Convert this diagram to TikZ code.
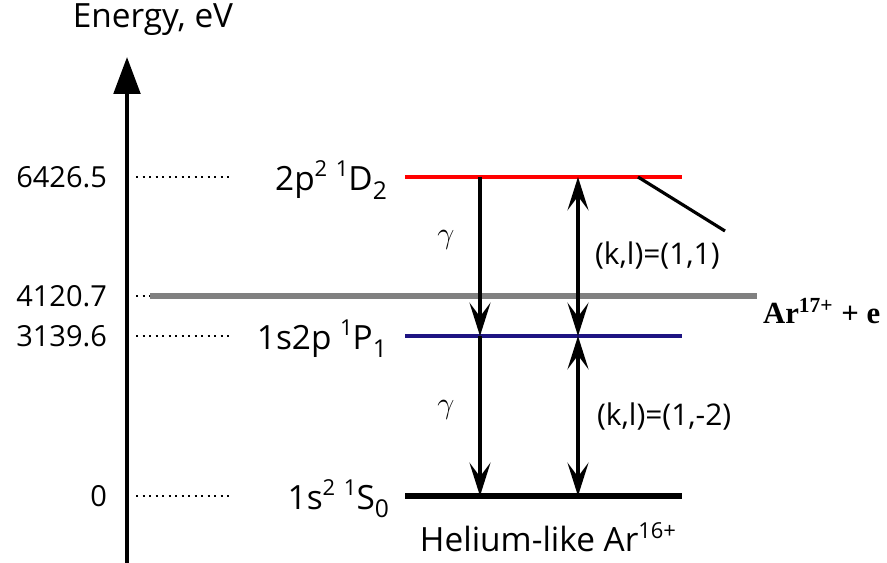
\documentclass[tikz,border=0pt]{standalone}
\usepackage{fontspec}
\usepackage{tikz}
\usetikzlibrary{arrows.meta}
\setmainfont{Open Sans}
\newfontfamily\arfont{Liberation Serif}
\newcommand{\lo}[1]{\raisebox{-0.5ex}{\fontsize{14}{16}\selectfont #1}}
\newcommand{\hi}[1]{\raisebox{0.75ex}{\fontsize{12.5}{14}\selectfont #1}}

\begin{document}
\begin{tikzpicture}[x=0.02cm,y=-0.02cm,
    every node/.style={font=\fontsize{19}{22}\selectfont,inner sep=1pt},
    value/.style={anchor=east,font=\fontsize{16.5}{20}\selectfont},
    state/.style={anchor=east},
    kl/.style={anchor=west,font=\fontsize{17}{20}\selectfont},
    level/.style={line width=2.8pt},
    guide/.style={dash pattern=on 1.4pt off 2.3pt,line width=1.4pt},
    trans/.style={line width=2pt,-{Stealth[length=19pt,width=12pt,inset=8pt]}},
    twoway/.style={line width=2pt,{Stealth[length=19pt,width=12pt,inset=8pt]}-{Stealth[length=19pt,width=12pt,inset=8pt]}}]
\useasboundingbox (0,0) rectangle (887,563);
% energy axis
\coordinate (base) at (127,563);
\coordinate (top) at (127,57);
\draw[line width=2.3pt,-{Triangle[length=21pt,width=15pt]}] (base) -- (top);
\node (axis) at (153,20) {Energy, eV};
% values on the axis
\node[value] (v1) at (109,177) {6426.5};
\node[value] (v2) at (109,296) {4120.7};
\node[value] (v3) at (109,336) {3139.6};
\node[value] (v4) at (109,496) {0};
\draw[guide] (136,177) -- (230,177);
\draw[guide] (136,296) -- (150,296);
\draw[guide] (136,336) -- (230,336);
\draw[guide] (136,496) -- (230,496);
% levels
\node[state] (d2) at (389,180) {2p\hi{2} \hi{1}D\lo{2}};
\node[state] (p1) at (389,339) {1s2p \hi{1}P\lo{1}};
\node[state] (s0) at (391,499) {1s\hi{2} \hi{1}S\lo{0}};
\draw[level,red] (405,177) -- (682,177);
\draw[line width=3pt,gray] (150,296) -- (757,296);
\draw[level,color={rgb,255:red,30;green,20;blue,130}] (405,336) -- (682,336);
\draw[line width=3.4pt,black] (405,496) -- (682,496);
% transitions
\coordinate (a1) at (480,177);
\coordinate (a2) at (480,336);
\coordinate (a3) at (480,496);
\coordinate (b1) at (578,177);
\coordinate (b2) at (578,336);
\coordinate (b3) at (578,496);
\draw[trans] (a1) -- (a2);
\draw[trans] (a2) -- (a3);
\draw[twoway] (b1) -- (b2);
\draw[twoway] (b2) -- (b3);
\node (g1) at (446,240) {$\gamma$};
\node (g2) at (446,410) {$\gamma$};
\node[kl] (k1) at (593,256) {(k,l)=(1,1)};
\node[kl] (k2) at (595,417) {(k,l)=(1,-2)};
% continuum
\coordinate (c1) at (638,177);
\coordinate (c2) at (725,231);
\draw[line width=1.8pt] (c1) -- (c2);
\node[anchor=west,font=\arfont\bfseries\fontsize{17.5}{20}\selectfont] (ion) at (761,311) {Ar\textsuperscript{17+} + e};
\node (he) at (548,537) {Helium-like Ar\hi{16+}};
\end{tikzpicture}
\end{document}
